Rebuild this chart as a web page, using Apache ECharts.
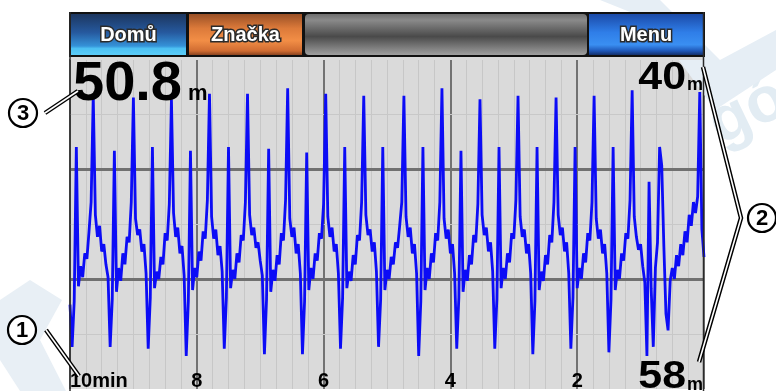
<!DOCTYPE html>
<html>
<head>
<meta charset="utf-8">
<script src="https://cdn.jsdelivr.net/npm/echarts@6/dist/echarts.min.js"></script>
<style>
  html, body { margin: 0; padding: 0; background: #ffffff; }
  #chart { width: 776px; height: 391px; }
</style>
</head>
<body>
<div id="chart"></div>
<script>
// Depth log of the last 10 minutes, one sounding every 2 seconds (metres).
const sampleSeconds = 2;
const depthM = [
  53.4,
  55.7, 53.2, 44.8, 52.4, 51.3, 51.9, 50.6, 50.9, 49.4, 47.8, 42.0, 48.5, 49.7, 49.1, 50.5, 50.1, 51.2, 51.9,
  55.7, 53.1, 45.0, 52.7, 51.4, 52.1, 50.6, 51.2, 49.7, 50.0, 47.8, 42.1, 48.7, 49.6, 49.3, 50.5, 50.1, 51.7,
  55.8, 53.0, 44.8, 52.5, 51.6, 52.0, 50.8, 51.2, 49.5, 49.9, 47.9, 42.2, 48.4, 49.7, 49.2, 50.6, 50.2, 51.8,
  56.2, 53.2, 45.0, 52.6, 51.4, 51.9, 50.5, 51.0, 49.4, 49.8, 47.7, 41.9, 48.6, 49.8, 49.3, 50.7, 50.2, 51.6,
  55.8, 53.0, 44.8, 52.5, 51.5, 52.0, 50.6, 51.1, 49.6, 49.9, 47.8, 41.9, 48.5, 49.6, 49.2, 50.3, 50.0, 51.0, 51.8,
  56.1, 53.1, 44.9, 52.7, 51.5, 52.1, 50.7, 51.2, 49.5, 49.9, 47.7, 41.6, 48.7, 49.7, 49.2, 50.6, 50.1, 51.7,
  56.1, 53.2, 45.1, 52.6, 51.4, 52.0, 50.6, 51.0, 49.5, 49.8, 47.9, 41.9, 48.6, 49.7, 49.2, 50.5, 50.1, 51.7,
  55.8, 53.0, 44.8, 52.5, 51.6, 52.1, 50.7, 51.2, 49.6, 49.9, 47.8, 42.0, 48.5, 49.6, 49.3, 50.5, 50.0, 51.6,
  55.7, 53.1, 44.8, 52.6, 51.5, 52.0, 50.8, 51.2, 50.0, 50.3, 49.1, 47.8, 42.0, 48.6, 49.7, 49.2, 50.6, 50.1, 51.7,
  56.2, 53.2, 44.8, 52.6, 51.4, 52.0, 50.6, 51.1, 49.5, 49.9, 47.8, 41.6, 48.7, 49.8, 49.3, 50.6, 50.1, 51.7,
  55.8, 53.0, 45.0, 52.7, 51.5, 52.1, 50.7, 51.2, 49.6, 50.0, 47.9, 42.2, 48.5, 49.6, 49.2, 50.5, 50.0, 51.6,
  55.8, 53.1, 44.8, 52.5, 51.4, 52.0, 50.6, 51.1, 49.5, 49.8, 47.7, 42.0, 48.6, 49.7, 49.3, 50.6, 50.1, 51.7,
  56.1, 53.2, 44.8, 52.6, 51.6, 52.1, 50.7, 51.2, 49.6, 50.0, 47.8, 42.1, 48.5, 49.6, 49.2, 50.5, 50.0, 51.7,
  55.8, 53.0, 44.8, 52.5, 51.4, 52.0, 50.6, 51.1, 49.5, 49.9, 47.8, 42.0, 48.7, 49.8, 49.3, 50.6, 50.1, 51.7,
  56.0, 53.1, 44.8, 52.6, 51.5, 52.0, 50.6, 51.0, 49.5, 49.8, 47.7, 41.7, 48.6, 49.7, 50.4, 50.1, 51.3, 52.2,
  56.2, 46.7, 52.5, 55.7, 51.4, 50.0, 44.8, 45.8, 50.2, 53.9, 54.8, 52.1, 51.4, 52.0, 50.7, 51.3, 50.1, 50.7,
  49.4, 50.0, 48.5, 49.1, 47.8, 48.4, 47.5, 41.8, 49.3, 50.8
];

// Time axis tick labels (minutes ago), one every 2 minutes
const timeTicks = ['10min', '8', '6', '4', '2'];
const tickSeconds = 120;
const windowSeconds = 600;

// Depth scale and its reference lines
const depthRange = [40, 58];
const depthMajorLines = [46, 52];
const depthMinorLines = [43, 49, 55];
const currentDepth = 50.8;
const depthUnit = 'm';

// Soft-key captions
const buttonLabels = ['Domů', 'Značka', 'Menu'];

const FONT = "'Liberation Sans', Arial, Helvetica, sans-serif";
const chart = echarts.init(document.getElementById('chart'), null, { renderer: 'canvas' });

const series = depthM.map((d, i) => [i * sampleSeconds, d]);

const vGrad = (stops) => ({
  type: 'linear', x: 0, y: 0, x2: 0, y2: 1,
  colorStops: stops.map(([offset, color]) => ({ offset, color }))
});

chart.setOption({
  animation: false,
  backgroundColor: '#ffffff',
  grid: {
    left: 70, right: 72, top: 59, height: 333,
    show: true, backgroundColor: '#dadada', borderWidth: 0
  },
  xAxis: {
    type: 'value', min: 0, max: windowSeconds, interval: tickSeconds,
    axisLine: { show: false }, axisTick: { show: false },
    splitLine: { show: true, lineStyle: { color: '#4f4f4f', width: 1.5 } },
    minorTick: { show: false, splitNumber: 8 },
    minorSplitLine: { show: true, lineStyle: { color: '#c7c7c7', width: 1 } },
    axisLabel: {
      inside: true, margin: 8, verticalAlign: 'middle',
      color: '#000', fontFamily: FONT, fontWeight: 'bold', fontSize: 20,
      showMaxLabel: false, alignMinLabel: 'left',
      formatter: (v) => timeTicks[Math.round(v / tickSeconds)] || ''
    }
  },
  yAxis: {
    type: 'value', inverse: true, min: depthRange[0], max: depthRange[1],
    axisLine: { show: false }, axisTick: { show: false },
    axisLabel: { show: false }, splitLine: { show: false }
  },
  series: [
    {
      type: 'line', data: [], silent: true, z: 1,
      markLine: {
        z: 1, silent: true, symbol: 'none', label: { show: false }, animation: false,
        data: [
          ...depthMinorLines.map(v => ({ yAxis: v, lineStyle: { color: '#c8c8c8', width: 1, type: 'solid' } })),
          ...depthMajorLines.map(v => ({ yAxis: v, lineStyle: { color: '#707070', width: 3, type: 'solid' } }))
        ]
      }
    },
    {
      type: 'line', data: series, z: 3, silent: true,
      symbol: 'none', showSymbol: false,
      lineStyle: { color: '#0c0cf6', width: 2.8, join: 'bevel' }
    }
  ]
});

// Positions of the depth scale ends, taken from the chart's own axes
const pTop = chart.convertToPixel({ gridIndex: 0 }, [windowSeconds, depthRange[0]]);
const pBot = chart.convertToPixel({ gridIndex: 0 }, [windowSeconds, depthRange[1]]);
const pLeft = chart.convertToPixel({ gridIndex: 0 }, [0, depthRange[0]]);

const txt = (x, y, text, size, align, extra, z) => ({
  type: 'text', x, y, z: z || 30, silent: true,
  style: Object.assign({ text, fill: '#000', font: `bold ${size}px ${FONT}`, align, verticalAlign: 'middle' }, extra || {})
});

const button = (x, w, stops, label) => ([
  { type: 'rect', z: 21, shape: { x, y: 14, width: w, height: 41 }, style: { fill: vGrad(stops) } },
  txt(x + w / 2, 35, label, 20, 'center', { fill: '#ffffff', stroke: '#2b2b2b', lineWidth: 3, strokeFirst: true }, 22)
]);

const callout = (cx, cy, n) => ([
  { type: 'circle', z: 40, shape: { cx, cy, r: 14 }, style: { fill: '#ffffff', stroke: '#000000', lineWidth: 2.2 } },
  txt(cx, cy + 1, n, 22, 'center', null, 42)
]);

const leader = (points) => ([
  { type: 'polyline', z: 40, shape: { points }, style: { stroke: '#000000', lineWidth: 4.5, fill: null, lineJoin: 'miter' } },
  { type: 'polyline', z: 41, shape: { points }, style: { stroke: '#ffffff', lineWidth: 1.6, fill: null, lineJoin: 'miter' } }
]);

const elements = [
  // faint watermark behind the page
  { type: 'text', x: 748, y: 112, z: 0, rotation: 0.45, silent: true,
    style: { text: 'gó', font: `bold 64px ${FONT}`, fill: '#e2ecf3', align: 'center', verticalAlign: 'middle' } },
  { type: 'polygon', z: 0, silent: true, shape: { points: [[600, 0], [660, 0], [720, 60], [776, 30], [776, 70], [715, 110], [650, 20]] },
    style: { fill: '#e6eef5' } },
  { type: 'polygon', z: 0, silent: true, shape: { points: [[0, 300], [30, 280], [62, 300], [40, 340], [66, 391], [20, 391], [0, 360]] },
    style: { fill: '#e8eff5' } },
  // strip between soft keys and the plot
  { type: 'rect', z: 5, shape: { x: 70, y: 55, width: 634, height: 5 }, style: { fill: '#dadada' } },
  // soft-key bar
  { type: 'rect', z: 20, shape: { x: 69, y: 12, width: 636, height: 45 }, style: { fill: '#111111' } },
  ...button(71, 115, [[0, '#1c365f'], [0.45, '#26599e'], [0.78, '#3592d8'], [0.84, '#4cc0f2'], [1, '#5ccdf8']], buttonLabels[0]),
  ...button(189, 113, [[0, '#9a5026'], [0.35, '#dc7a3a'], [0.65, '#f28e46'], [0.9, '#d06c32'], [1, '#8a4420']], buttonLabels[1]),
  { type: 'rect', z: 21, shape: { x: 305, y: 14, width: 282, height: 41, r: 4 },
    style: { fill: vGrad([[0, '#6e6e6e'], [0.15, '#8a8a8a'], [0.55, '#4a4a4a'], [0.9, '#8c8c8c'], [1, '#a0a0a0']]) } },
  ...button(589, 114, [[0, '#1b4aa8'], [0.45, '#2f7ee8'], [0.75, '#3a8ff2'], [0.9, '#1f57b8'], [1, '#14306a']], buttonLabels[2]),
  // frame sides
  { type: 'line', z: 25, shape: { x1: 70, y1: 12, x2: 70, y2: 391 }, style: { stroke: '#2a2a2a', lineWidth: 1.5 } },
  { type: 'line', z: 25, shape: { x1: 703.5, y1: 12, x2: 703.5, y2: 391 }, style: { stroke: '#2a2a2a', lineWidth: 1.5 } },
  // current depth readout
  txt(pLeft[0] + 3, pTop[1] + 26, currentDepth.toFixed(1), 56, 'left'),
  txt(pLeft[0] + 118, pTop[1] + 35, depthUnit, 22, 'left'),
  // depth scale ends
  Object.assign(txt(pTop[0] - 18, pTop[1] + 19, String(depthRange[0]), 39, 'right'), { scaleX: 1.1 }),
  txt(pTop[0] - 17, pTop[1] + 26, depthUnit, 18, 'left'),
  Object.assign(txt(pBot[0] - 18, pBot[1] - 12, String(depthRange[1]), 39, 'right'), { scaleX: 1.1 }),
  txt(pBot[0] - 17, pBot[1] - 4, depthUnit, 18, 'left'),
  // callouts
  ...leader([[45, 113], [78, 91]]),
  ...callout(23, 113, '3'),
  ...leader([[46, 330], [79, 376]]),
  ...callout(22, 330, '1'),
  ...leader([[703, 67], [741, 218], [699, 362]]),
  ...callout(762, 218, '2')
];

chart.setOption({ graphic: { elements } });
</script>
</body>
</html>
